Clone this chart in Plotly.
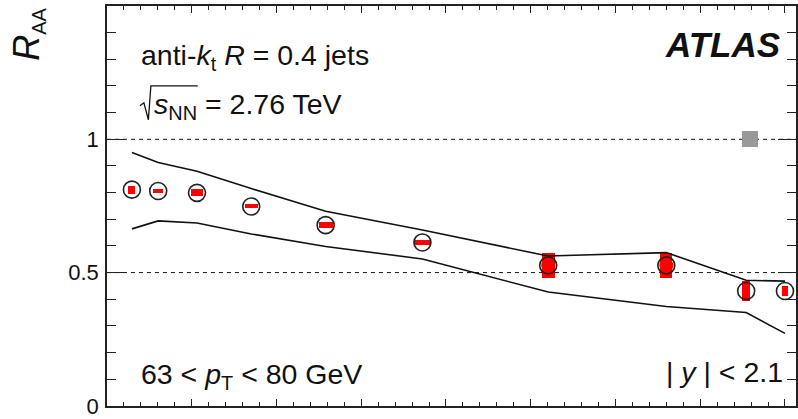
import plotly.graph_objects as go

# ---------------- data ----------------
npart = [14.7, 30.2, 53.1, 85.1, 129.0, 186.1, 260.3, 330.0, 377.1, 400.0]
raa = [0.811, 0.806, 0.799, 0.748, 0.678, 0.613, 0.527, 0.527, 0.431, 0.431]
raa_err = [0.015, 0.0075, 0.013, 0.0075, 0.011, 0.011, 0.047, 0.047, 0.039, 0.019]
box_width = [4.1, 5.9, 7.1, 7.6, 8.2, 10.0, 7.6, 7.1, 4.7, 3.5]
filled_idx = [6, 7]
band_upper = [0.950, 0.913, 0.880, 0.815, 0.730, 0.660, 0.562, 0.575, 0.471, 0.468]
band_lower = [0.664, 0.694, 0.686, 0.645, 0.598, 0.551, 0.427, 0.373, 0.350, 0.272]
norm_x = [379.5]
norm_val = [1.0]
norm_unc = [0.03]
norm_width = [9.4]
ref_lines = [1.0, 0.5]
y_tickvals = [0, 0.5, 1]
y_ticktext = ["0", "0.5", "1"]
y_minor = [0.1, 0.2, 0.3, 0.4, 0.6, 0.7, 0.8, 0.9, 1.1, 1.2, 1.3, 1.4]

W, H = 798, 419
ML, MR, MT, MB = 107, 0, 6, 12
PW, PH = W - ML - MR, H - MT - MB
FONT = "Liberation Sans, Arial, sans-serif"
TXT = "#111111"


def px(x):
    return (x - ML) / PW


def py(y):
    return (H - MB - y) / PH


fig = go.Figure()

# red uncertainty boxes
fig.add_trace(go.Bar(
    x=npart, y=[2 * e for e in raa_err], base=[v - e for v, e in zip(raa, raa_err)],
    width=box_width, marker=dict(color="#ff0000", line=dict(width=0)),
    showlegend=False, hoverinfo="skip"))
# normalisation box
fig.add_trace(go.Bar(
    x=norm_x, y=[2 * u for u in norm_unc], base=[v - u for v, u in zip(norm_val, norm_unc)],
    width=norm_width, marker=dict(color="#999999", line=dict(width=0)),
    showlegend=False, hoverinfo="skip"))

# band edges
for band in (band_upper, band_lower):
    fig.add_trace(go.Scatter(x=npart, y=band, mode="lines",
                             line=dict(color="#111111", width=1.6),
                             showlegend=False, hoverinfo="skip"))

# red filled markers
fig.add_trace(go.Scatter(
    x=[npart[i] for i in filled_idx], y=[raa[i] for i in filled_idx], mode="markers",
    marker=dict(symbol="circle", size=14, color="#ff0000", line=dict(width=0)),
    showlegend=False))
# open circles
fig.add_trace(go.Scatter(
    x=npart, y=raa, mode="markers",
    marker=dict(symbol="circle-open", size=17, color="#222222", line=dict(width=1.6)),
    showlegend=False))

shapes = []
for v in ref_lines:
    shapes.append(dict(type="line", xref="paper", yref="y", x0=0, x1=1, y0=v, y1=v,
                       line=dict(color="#111111", width=1, dash="4px,4px"), layer="below"))

# sqrt sign
sq = [(140, 106), (144, 103), (148.5, 120), (151, 86), (198, 86)]
path = "M " + " L ".join(f"{px(a):.5f},{py(b):.5f}" for a, b in sq)
shapes.append(dict(type="path", xref="paper", yref="paper", path=path,
                   line=dict(color=TXT, width=1.3)))

ann = [
    dict(text="<i>R</i><sub><span style='font-size:20px'>AA</span></sub>",
         x=px(28), y=py(6), xanchor="center", yanchor="top", textangle=-90,
         font=dict(size=36)),
    dict(text="anti-<i>k</i><sub>t</sub> <i>R</i> = 0.4 jets",
         x=px(139), y=py(57), xanchor="left", yanchor="middle", font=dict(size=28.5)),
    dict(text="<i>s</i><sub>NN</sub> = 2.76 TeV",
         x=px(152), y=py(106), xanchor="left", yanchor="middle", font=dict(size=28.5)),
    dict(text="<b><i>ATLAS</i></b>",
         x=px(784), y=py(45), xanchor="right", yanchor="middle", font=dict(size=35)),
    dict(text="63 &lt; <i>p</i><sub>T</sub> &lt; 80 GeV",
         x=px(139), y=py(377), xanchor="left", yanchor="middle", font=dict(size=28.5)),
    dict(text="| <i>y</i> | &lt; 2.1",
         x=px(787), y=py(373), xanchor="right", yanchor="middle", font=dict(size=28.5)),
]
for a in ann:
    a.update(xref="paper", yref="paper", showarrow=False)
    a["font"].update(family=FONT, color=TXT)

fig.update_layout(
    width=W, height=H,
    margin=dict(l=ML, r=MR, t=MT, b=MB, pad=0),
    paper_bgcolor="white", plot_bgcolor="white",
    barmode="overlay", bargap=0,
    shapes=shapes, annotations=ann,
    font=dict(family=FONT, color=TXT),
    showlegend=False,
)
fig.update_xaxes(
    range=[0, 406.5], showgrid=False, zeroline=False,
    showline=True, linecolor="#222222", linewidth=1.5, mirror="ticks",
    ticks="inside", ticklen=7, tickcolor="#222222", tickwidth=1.2,
    tickmode="linear", tick0=0, dtick=50, showticklabels=False,
    minor=dict(ticks="inside", ticklen=4, dtick=10, tick0=0, tickcolor="#222222", tickwidth=1.2),
)
fig.update_yaxes(
    range=[-0.0005, 1.5], showgrid=False, zeroline=False,
    showline=True, linecolor="#222222", linewidth=1.5, mirror="ticks",
    ticks="inside", ticklen=18, tickcolor="#222222", tickwidth=1.2,
    tickmode="array", tickvals=y_tickvals, ticktext=y_ticktext,
    tickfont=dict(size=22, family=FONT, color=TXT), ticklabelstandoff=2,
    ticklabeloverflow="allow",
    minor=dict(ticks="inside", ticklen=9, tickmode="array", tickvals=y_minor,
               tickcolor="#222222", tickwidth=1.2),
)

fig.write_html("out.html")
